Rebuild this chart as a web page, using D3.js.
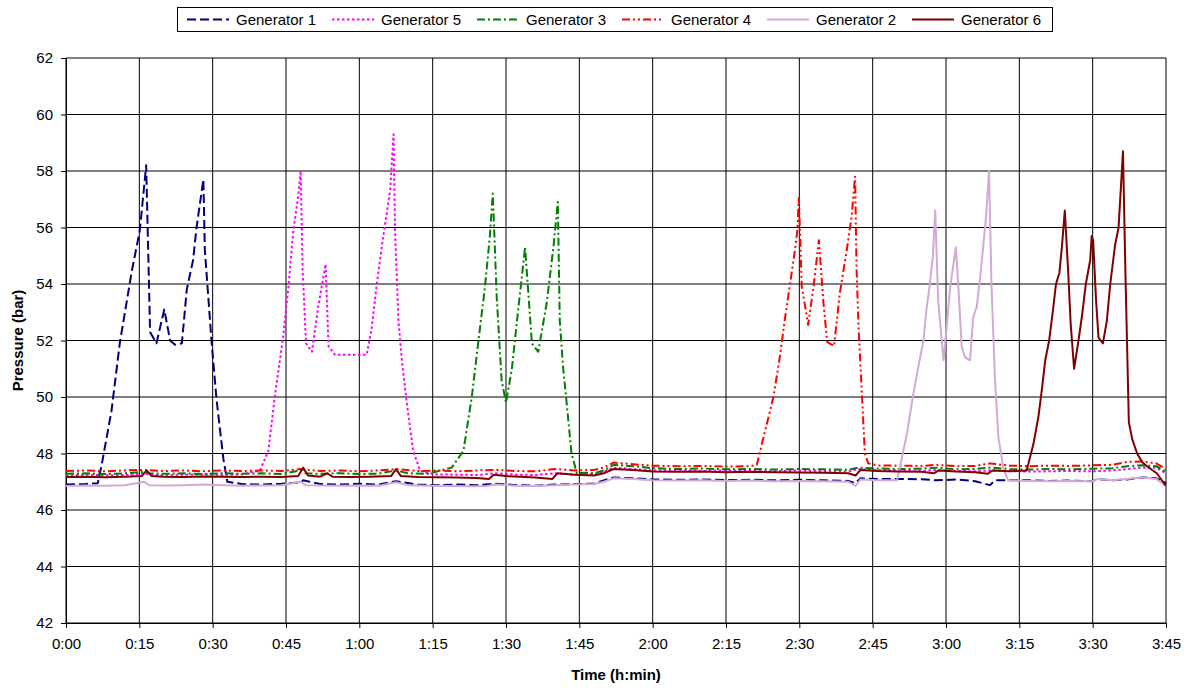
<!DOCTYPE html>
<html>
<head>
<meta charset="utf-8">
<script src="https://cdn.jsdelivr.net/npm/d3@7"></script>
<style>
  body { margin: 0; background: #fff; }
  text { font-family: Arial, "Liberation Sans", sans-serif; }
</style>
</head>
<body>
<div id="chart"></div>
<script>
// minutes since 0:00 -> pressure (bar)
const gen1 = [[0,46.9],[4,46.92],[6.5,46.95],[7.3,47.6],[9.3,49.5],[11,51.9],[13.4,54.4],[15.1,55.9],[16.4,58.2],[17.2,52.3],[18.5,51.9],[20.1,53.1],[21.3,52.0],[22.3,51.85],[23.7,51.9],[24.7,53.8],[26,54.85],[26.7,56],[28.1,57.7],[28.4,55.2],[29.8,51.9],[30.8,49.9],[32.2,47.8],[33,47.0],[36,46.92],[40,46.9],[44,46.93],[48,46.98],[48.5,47.05],[52,46.92],[56,46.9],[60,46.93],[64,46.9],[67.5,47.02],[72,46.9],[76,46.88],[80,46.9],[84,46.88],[88,46.93],[92,46.88],[96,46.86],[100,46.9],[104,46.92],[108,46.93],[110,47.05],[112,47.15],[116,47.12],[120,47.08],[125,47.07],[130,47.08],[135,47.06],[140,47.07],[145,47.05],[150,47.07],[155,47.05],[160,47.03],[161.5,46.95],[162.5,47.12],[166,47.1],[170,47.1],[175,47.09],[178,47.05],[182,47.08],[186,47.02],[189,46.88],[190,47.05],[193,47.05],[197,47.05],[201,47.03],[205,47.04],[210,47.02],[211,47.1],[214,47.05],[217,47.08],[220,47.15],[223,47.12],[225,46.95]];

const gen5 = [[0,47.22],[4,47.25],[8,47.23],[12,47.24],[16,47.3],[17,47.24],[20,47.23],[24,47.25],[28,47.26],[32,47.24],[36,47.26],[39.7,47.4],[41.4,48.1],[42.7,50.0],[44.4,52.1],[45.5,53.9],[46.5,55.9],[47.5,57.1],[48,58.0],[48.4,54.5],[49.1,51.9],[50.3,51.6],[51.6,53.2],[53.1,54.7],[53.7,51.8],[55,51.5],[58.4,51.5],[61.5,51.5],[62.5,52.4],[63.5,53.9],[64.9,55.7],[66.3,57.3],[67,59.3],[67.3,55.9],[68,52.7],[68.7,51.3],[69.7,49.8],[71,48.1],[72.4,47.4],[74,47.3],[76,47.26],[80,47.25],[84,47.24],[88,47.3],[92,47.25],[96,47.24],[100,47.3],[104,47.26],[108,47.27],[110,47.35],[112,47.5],[116,47.45],[120,47.4],[125,47.4],[130,47.38],[135,47.4],[140,47.38],[145,47.37],[150,47.4],[155,47.38],[160,47.36],[162,47.45],[166,47.42],[170,47.4],[175,47.38],[178,47.42],[182,47.38],[186,47.37],[189,47.4],[193,47.38],[197,47.36],[201,47.37],[205,47.38],[210,47.37],[214,47.4],[217,47.45],[220,47.5],[223,47.5],[225,47.3]];

const gen3 = [[0,47.28],[4,47.3],[8,47.27],[12,47.3],[16,47.35],[17,47.3],[20,47.28],[24,47.3],[28,47.27],[32,47.3],[36,47.28],[40,47.3],[44,47.27],[48,47.4],[49,47.3],[52,47.28],[56,47.3],[60,47.27],[64,47.29],[67.5,47.4],[70,47.3],[74,47.28],[78.9,47.5],[81.3,48.1],[83,50.0],[84.3,51.9],[85.7,53.9],[86.7,55.7],[87.3,57.2],[88.1,53.55],[89.1,50.6],[90,49.8],[91.2,51.0],[92.5,53.1],[93.9,55.3],[95.3,51.9],[96.6,51.6],[98.3,53.3],[99.7,55.3],[100.6,56.9],[101,52.7],[101.7,51.0],[102.4,49.8],[103.4,48.0],[104.5,47.3],[106,47.32],[108,47.3],[110,47.4],[112,47.6],[116,47.55],[120,47.48],[125,47.45],[130,47.47],[135,47.44],[140,47.45],[145,47.43],[150,47.45],[155,47.44],[160,47.42],[162,47.5],[166,47.47],[170,47.45],[175,47.46],[178,47.5],[182,47.44],[186,47.45],[189,47.5],[193,47.45],[197,47.43],[201,47.45],[205,47.44],[210,47.46],[214,47.48],[217,47.55],[220,47.58],[223,47.55],[225,47.35]];

const gen4 = [[0,47.38],[4,47.4],[8,47.37],[12,47.4],[16,47.42],[20,47.38],[24,47.4],[28,47.37],[32,47.4],[36,47.38],[40,47.4],[44,47.38],[48,47.45],[52,47.38],[56,47.4],[60,47.37],[64,47.4],[67.5,47.45],[72,47.38],[76,47.4],[80,47.37],[84,47.4],[88,47.42],[92,47.38],[96,47.37],[100,47.45],[104,47.4],[108,47.42],[110,47.5],[112,47.68],[116,47.62],[120,47.57],[125,47.55],[130,47.56],[135,47.54],[140,47.55],[141.3,47.6],[144.7,50.0],[146,51.4],[147,52.7],[148.1,54.0],[149.1,55.2],[149.6,55.9],[149.9,57.1],[150.5,53.9],[151.2,53.2],[151.8,52.55],[152.9,53.9],[154,55.55],[154.9,53.4],[155.7,51.95],[157.1,51.8],[158.3,53.7],[159.7,55.2],[160.7,56.4],[161.4,57.8],[161.7,54.6],[162.1,52.5],[162.8,50.1],[163.4,48.0],[164.1,47.65],[166,47.58],[170,47.57],[175,47.56],[178,47.6],[182,47.55],[186,47.56],[189,47.65],[193,47.57],[197,47.55],[201,47.57],[205,47.56],[210,47.58],[214,47.6],[217,47.7],[220,47.72],[223,47.65],[225,47.45]];

const gen2 = [[0,46.85],[4,46.87],[8,46.86],[12,46.88],[16,47.0],[17,46.88],[20,46.87],[24,46.88],[28,46.9],[32,46.88],[36,46.86],[40,46.87],[44,46.88],[48,47.0],[49,46.88],[52,46.87],[56,46.86],[60,46.87],[64,46.86],[67.5,46.98],[70,46.88],[74,46.86],[78,46.85],[82,46.84],[86,46.85],[88,46.9],[92,46.86],[96,46.85],[100,46.88],[104,46.9],[108,46.92],[110,47.0],[112,47.12],[116,47.1],[120,47.05],[125,47.04],[130,47.05],[135,47.03],[140,47.04],[145,47.02],[150,47.03],[155,47.02],[160,47.0],[161.5,46.85],[162.5,47.08],[166,47.05],[170,47.05],[172,48.7],[173.3,50.1],[174.7,51.4],[175.4,52.0],[176,53.1],[176.7,54.0],[177.3,54.95],[177.8,56.6],[178.4,53.4],[179.5,51.3],[180.1,52.4],[180.8,53.8],[182,55.3],[182.5,54.0],[183.2,51.8],[183.9,51.4],[184.9,51.3],[185.6,52.85],[186.3,53.2],[187,54.25],[187.6,55.3],[188.2,56.4],[188.8,58.0],[189.3,54.0],[190,50.7],[190.7,48.6],[191.7,47.5],[192.7,47.05],[197,47.03],[201,47.02],[205,47.03],[210,47.02],[211,47.1],[214,47.05],[217,47.1],[220,47.15],[223,47.1],[225,46.85]];

const gen6 = [[0,47.17],[4,47.18],[8,47.16],[12,47.18],[15.5,47.2],[16.5,47.4],[17.5,47.2],[20,47.18],[24,47.17],[28,47.19],[32,47.18],[36,47.17],[40,47.18],[44,47.17],[47.5,47.2],[48.5,47.5],[49.5,47.22],[52,47.18],[53.4,47.3],[54.5,47.18],[58,47.17],[62,47.18],[66.5,47.2],[67.5,47.45],[68.5,47.2],[72,47.17],[76,47.16],[80,47.15],[84,47.13],[86.5,47.1],[87.5,47.25],[90,47.2],[93,47.18],[96,47.15],[99.5,47.1],[100.5,47.3],[104,47.25],[108,47.22],[110,47.3],[112,47.45],[116,47.42],[120,47.36],[125,47.35],[130,47.36],[135,47.34],[140,47.35],[145,47.34],[150,47.33],[155,47.32],[160,47.3],[161.5,47.22],[162.5,47.42],[166,47.38],[170,47.36],[175,47.35],[177.5,47.3],[178.5,47.4],[182,47.36],[186,47.34],[188.5,47.28],[189.5,47.4],[193,47.37],[196.5,47.4],[197.9,48.35],[198.9,49.3],[199.6,50.25],[200.3,51.3],[201.1,52.0],[201.8,52.96],[202.5,54.0],[203.2,54.4],[203.7,55.3],[204.3,56.6],[205,54.4],[205.5,52.6],[206.2,51.0],[207.1,52.0],[207.8,52.85],[208.6,54.0],[209.5,54.85],[209.8,55.7],[210.1,55.55],[210.7,53.4],[211.2,52.1],[212.1,51.9],[212.9,52.7],[213.6,54.0],[214.6,55.4],[215.3,56.0],[216.2,58.7],[216.7,54.4],[217.4,49.1],[218.1,48.5],[219.1,48.0],[220.1,47.7],[221.1,47.55],[223.1,47.3],[225,46.85]];

const seriesNames = ['Generator 1', 'Generator 5', 'Generator 3', 'Generator 4', 'Generator 2', 'Generator 6'];
const xTicks = [0, 15, 30, 45, 60, 75, 90, 105, 120, 135, 150, 165, 180, 195, 210, 225];
const xTickLabels = ['0:00', '0:15', '0:30', '0:45', '1:00', '1:15', '1:30', '1:45', '2:00', '2:15', '2:30', '2:45', '3:00', '3:15', '3:30', '3:45'];
const yTicks = [42, 44, 46, 48, 50, 52, 54, 56, 58, 60, 62];

const series = [
  { name: seriesNames[0], data: gen1, color: '#000080', width: 2, dash: '9,4' },
  { name: seriesNames[1], data: gen5, color: '#FF00FF', width: 2, dash: '2.5,2.5' },
  { name: seriesNames[2], data: gen3, color: '#008000', width: 2, dash: '8,3,2,3' },
  { name: seriesNames[3], data: gen4, color: '#FF0000', width: 2, dash: '8,3,2,3,2,3' },
  { name: seriesNames[4], data: gen2, color: '#D4A9D6', width: 2, dash: null },
  { name: seriesNames[5], data: gen6, color: '#800000', width: 2, dash: null }
];

const W = 1193, H = 688;
const plot = { left: 66, right: 1166, top: 58, bottom: 623 };

const svg = d3.select('#chart').append('svg')
  .attr('width', W).attr('height', H);

const x = d3.scaleLinear().domain([0, 225]).range([plot.left, plot.right]);
const y = d3.scaleLinear().domain([42, 62]).range([plot.bottom, plot.top]);

// grid
svg.append('g').selectAll('line.h').data(yTicks).enter().append('line')
  .attr('x1', plot.left).attr('x2', plot.right)
  .attr('y1', d => y(d)).attr('y2', d => y(d))
  .attr('stroke', '#000').attr('stroke-width', 1);
svg.append('g').selectAll('line.v').data(xTicks).enter().append('line')
  .attr('x1', d => x(d)).attr('x2', d => x(d))
  .attr('y1', plot.top).attr('y2', plot.bottom)
  .attr('stroke', '#000').attr('stroke-width', 1);

// axes
const yAxis = svg.append('g')
  .attr('transform', `translate(${plot.left},0)`)
  .call(d3.axisLeft(y).tickValues(yTicks).tickSize(5).tickPadding(8));
const xAxis = svg.append('g')
  .attr('transform', `translate(0,${plot.bottom})`)
  .call(d3.axisBottom(x).tickValues(xTicks).tickSize(5).tickPadding(10)
    .tickFormat((d, i) => xTickLabels[i]));
[yAxis, xAxis].forEach(g => {
  g.select('.domain').attr('stroke', '#000');
  g.selectAll('.tick line').attr('stroke', '#000');
  g.selectAll('.tick text').attr('fill', '#000')
    .style('font-size', '15px').style('font-family', 'Arial, "Liberation Sans", sans-serif');
});

// lines
svg.append('clipPath').attr('id', 'plot-clip').append('rect')
  .attr('x', plot.left).attr('y', plot.top)
  .attr('width', plot.right - plot.left).attr('height', plot.bottom - plot.top);

const line = d3.line().x(d => x(d[0])).y(d => y(d[1]));

svg.append('g').attr('clip-path', 'url(#plot-clip)')
  .selectAll('path').data(series).enter().append('path')
  .attr('d', d => line(d.data))
  .attr('fill', 'none')
  .attr('stroke', d => d.color)
  .attr('stroke-width', d => d.width)
  .attr('stroke-dasharray', d => d.dash)
  .attr('stroke-linejoin', 'round');

// axis titles
svg.append('text')
  .attr('x', (plot.left + plot.right) / 2).attr('y', 680)
  .attr('text-anchor', 'middle')
  .style('font-size', '15px').style('font-weight', 'bold')
  .text('Time (h:min)');
svg.append('text')
  .attr('transform', `translate(23,${(plot.top + plot.bottom) / 2}) rotate(-90)`)
  .attr('text-anchor', 'middle')
  .style('font-size', '15px').style('font-weight', 'bold')
  .text('Pressure (bar)');

// legend
const legendX = 180, legendStep = 145;
svg.append('rect')
  .attr('x', 177.5).attr('y', 7.5).attr('width', 875).attr('height', 24)
  .attr('fill', '#fff').attr('stroke', '#000').attr('stroke-width', 1);

const item = svg.append('g').selectAll('g').data(series).enter().append('g')
  .attr('transform', (d, i) => `translate(${legendX + 7 + i * legendStep},0)`);
item.append('line')
  .attr('x1', 0).attr('x2', 42).attr('y1', 19.5).attr('y2', 19.5)
  .attr('stroke', d => d.color)
  .attr('stroke-width', d => d.width)
  .attr('stroke-dasharray', d => d.dash);
item.append('text')
  .attr('x', 49).attr('y', 25)
  .style('font-size', '15px')
  .text(d => d.name);
</script>
</body>
</html>
